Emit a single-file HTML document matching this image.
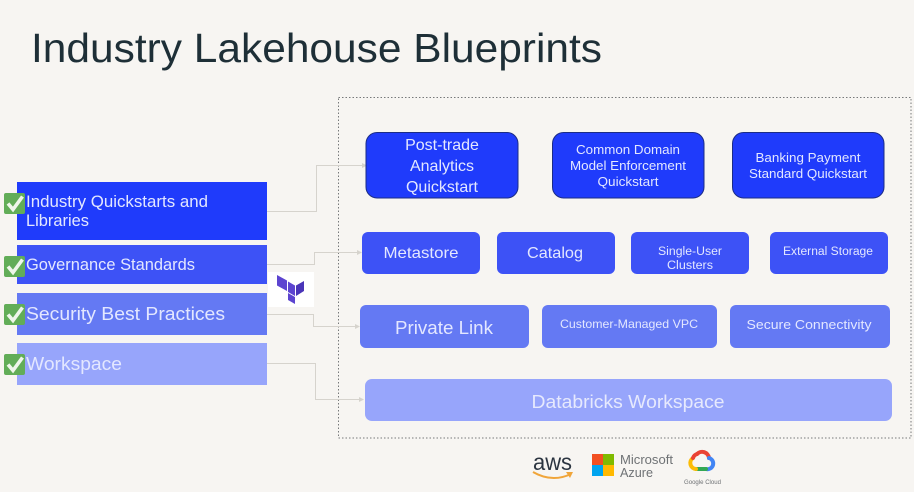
<!DOCTYPE html>
<html>
<head>
<meta charset="utf-8">
<style>
html,body{margin:0;padding:0;background:#f7f5f2;width:914px;height:492px;overflow:hidden}
svg{display:block}
text{font-family:"Liberation Sans",sans-serif;fill:#fff}
.m{text-anchor:middle}
.s{fill:#e3e7ff}
</style>
</head>
<body>
<svg width="914" height="492" viewBox="0 0 914 492" xmlns="http://www.w3.org/2000/svg">
<defs>
<g id="chk">
<rect x="0" y="0" width="21" height="21" rx="2" fill="#62ad58"/>
<path d="M4 10.5 L9 16.5 L18.5 3.5" fill="none" stroke="#eef6ea" stroke-width="3.6"/>
</g>
</defs>
<rect width="914" height="492" fill="#f7f5f2"/>

<text x="31" y="62" font-size="41" textLength="571" lengthAdjust="spacingAndGlyphs" style="fill:#1e2f37">Industry Lakehouse Blueprints</text>

<rect x="338.5" y="97.5" width="572.5" height="340.5" fill="none" stroke="#77797a" stroke-width="1" stroke-dasharray="1.5 2"/>

<!-- connectors -->
<g fill="none" stroke="#d6d3cd" stroke-width="1">
<path d="M267 211.5H316.5V165.5H364"/>
<path d="M267 264.5H314.5V252.5H359"/>
<path d="M267 314.5H313.5V326.5H357"/>
<path d="M267 363.5H315.5V399.5H361"/>
</g>
<g fill="#d6d3cd">
<path d="M362 163L367 165.5L362 168Z"/>
<path d="M357 250L362 252.5L357 255Z"/>
<path d="M355 324L360 326.5L355 329Z"/>
<path d="M359 397L364 399.5L359 402Z"/>
</g>

<!-- left column -->
<rect x="17" y="182" width="250" height="58" fill="#1f3bfb"/>
<rect x="17" y="245" width="250" height="39" fill="#3d52f6"/>
<rect x="17" y="293" width="250" height="42" fill="#6479f3"/>
<rect x="17" y="343" width="250" height="42" fill="#97a5fb"/>
<text x="26" y="207" font-size="16.5" textLength="182" lengthAdjust="spacingAndGlyphs" class="s">Industry Quickstarts and</text>
<text x="26" y="226" font-size="16.5" textLength="63" lengthAdjust="spacingAndGlyphs" class="s">Libraries</text>
<text x="26" y="270" font-size="16.5" textLength="169" lengthAdjust="spacingAndGlyphs" class="s">Governance Standards</text>
<text x="26" y="320" font-size="18.5" textLength="199" lengthAdjust="spacingAndGlyphs" class="s">Security Best Practices</text>
<text x="26" y="370" font-size="18.5" textLength="96" lengthAdjust="spacingAndGlyphs" class="s">Workspace</text>
<use href="#chk" x="4" y="193"/>
<use href="#chk" x="4" y="256"/>
<use href="#chk" x="4" y="304"/>
<use href="#chk" x="4" y="354"/>

<!-- terraform -->
<rect x="268" y="272" width="46" height="35" fill="#ffffff"/>
<g fill="#5c44d0">
<path d="M277 275L287 280.5V291L277 285.5Z"/>
<path d="M288 281.5L295 285.5V296L288 292Z"/>
<path d="M288 293L295 297V304L288 300Z"/>
<path d="M296 285.5L304 281V291L296 296Z" fill="#4a35b8"/>
</g>

<!-- top row -->
<g stroke="#1b2c86" stroke-width="1" fill="#1f3bfb">
<rect x="366" y="132.5" width="152" height="65.5" rx="11"/>
<rect x="552.5" y="132.5" width="151.5" height="65.5" rx="11"/>
<rect x="732.5" y="132.5" width="151.5" height="65.5" rx="11"/>
</g>
<text class="m s" x="442" y="150" font-size="16">Post-trade</text>
<text class="m s" x="442" y="171" font-size="16">Analytics</text>
<text class="m s" x="442" y="192" font-size="16">Quickstart</text>
<text class="m s" x="628" y="154" font-size="12.5" textLength="104" lengthAdjust="spacingAndGlyphs">Common Domain</text>
<text class="m s" x="628" y="170" font-size="12.5" textLength="116" lengthAdjust="spacingAndGlyphs">Model Enforcement</text>
<text class="m s" x="628" y="186" font-size="12.5" textLength="61" lengthAdjust="spacingAndGlyphs">Quickstart</text>
<text class="m s" x="808" y="162" font-size="12.5" textLength="105" lengthAdjust="spacingAndGlyphs">Banking Payment</text>
<text class="m s" x="808" y="178" font-size="12.5" textLength="118" lengthAdjust="spacingAndGlyphs">Standard Quickstart</text>

<!-- row 2 -->
<g fill="#3d52f6">
<rect x="362" y="232" width="118" height="42" rx="6"/>
<rect x="497" y="232" width="118" height="42" rx="6"/>
<rect x="631" y="232" width="118" height="42" rx="6"/>
<rect x="770" y="232" width="118" height="42" rx="6"/>
</g>
<text class="m s" x="421" y="258" font-size="16" textLength="75" lengthAdjust="spacingAndGlyphs">Metastore</text>
<text class="m s" x="555" y="258" font-size="16" textLength="56" lengthAdjust="spacingAndGlyphs">Catalog</text>
<text class="m s" x="690" y="255" font-size="11.5" textLength="64" lengthAdjust="spacingAndGlyphs">Single-User</text>
<text class="m s" x="690" y="269" font-size="11.5" textLength="46" lengthAdjust="spacingAndGlyphs">Clusters</text>
<text class="m s" x="828" y="255" font-size="11.5" textLength="90" lengthAdjust="spacingAndGlyphs">External Storage</text>

<!-- row 3 -->
<g fill="#6479f3">
<rect x="360" y="305" width="169" height="43" rx="6"/>
<rect x="542" y="305" width="175" height="43" rx="6"/>
<rect x="730" y="305" width="160" height="43" rx="6"/>
</g>
<text class="m s" x="444" y="334" font-size="18" textLength="98" lengthAdjust="spacingAndGlyphs">Private Link</text>
<text class="m s" x="629" y="328" font-size="12" textLength="138" lengthAdjust="spacingAndGlyphs">Customer-Managed VPC</text>
<text class="m s" x="809" y="329" font-size="13" textLength="125" lengthAdjust="spacingAndGlyphs">Secure Connectivity</text>

<!-- row 4 -->
<rect x="365" y="379" width="527" height="42" rx="7" fill="#97a5fb"/>
<text class="m" x="628" y="408" font-size="18" textLength="193" lengthAdjust="spacingAndGlyphs" style="fill:#e6e9fd">Databricks Workspace</text>

<!-- aws -->
<text x="533" y="470" font-size="23" textLength="39" lengthAdjust="spacingAndGlyphs" style="fill:#2b3440">aws</text>
<path d="M533 472Q552 483 571 474" fill="none" stroke="#f0a53a" stroke-width="2"/>
<path d="M566 472L573 472L570 478Z" fill="#f0a53a"/>

<!-- azure -->
<rect x="592" y="454" width="11" height="11" fill="#f25022"/>
<rect x="603" y="454" width="11" height="11" fill="#7fba00"/>
<rect x="592" y="465" width="11" height="11" fill="#00a4ef"/>
<rect x="603" y="465" width="11" height="11" fill="#ffb900"/>
<text x="620" y="464" font-size="13" textLength="53" lengthAdjust="spacingAndGlyphs" style="fill:#6f7275">Microsoft</text>
<text x="620" y="477" font-size="13" textLength="33" lengthAdjust="spacingAndGlyphs" style="fill:#6f7275">Azure</text>

<!-- google cloud -->
<g fill="none" stroke-width="4" stroke-linecap="round">
<path d="M697 454A7 7 0 0 1 709 458" stroke="#ea4335"/>
<path d="M709 458A5.5 5.5 0 0 1 706 469" stroke="#4285f4"/>
<path d="M706 469H696" stroke="#34a853"/>
<path d="M696 469A6 6 0 0 1 693 458" stroke="#fbbc05"/>
<path d="M693 458Q694 455 697 454" stroke="#ea4335"/>
</g>
<text x="684" y="484" font-size="6.5" textLength="37" lengthAdjust="spacingAndGlyphs" style="fill:#6f7275">Google Cloud</text>
</svg>
</body>
</html>
